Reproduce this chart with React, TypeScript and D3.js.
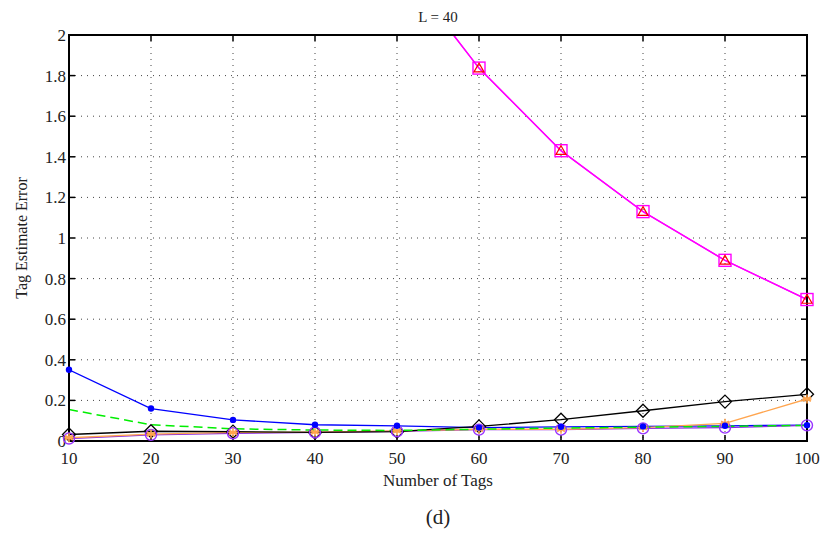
import React from "react";
import * as d3 from "d3";

const tags = [10, 20, 30, 40, 50, 60, 70, 80, 90, 100];
const magentaSquare = [9.0, 6.0, 4.4, 3.2, 2.36, 1.837, 1.43, 1.13, 0.89, 0.697];
const redTriangle = [9.0, 6.0, 4.4, 3.2, 2.36, 1.837, 1.43, 1.13, 0.89, 0.697];
const blueDot = [0.351, 0.16, 0.104, 0.08, 0.075, 0.066, 0.07, 0.072, 0.075, 0.078];
const greenDash = [0.155, 0.08, 0.06, 0.054, 0.052, 0.058, 0.064, 0.068, 0.072, 0.077];
const blackDiamond = [0.032, 0.048, 0.046, 0.042, 0.046, 0.072, 0.105, 0.149, 0.194, 0.23];
const purpleCircle = [0.012, 0.03, 0.038, 0.042, 0.048, 0.056, 0.056, 0.062, 0.066, 0.077];
const orangeStar = [0.016, 0.034, 0.042, 0.044, 0.05, 0.058, 0.058, 0.066, 0.087, 0.207];
const xTicks = [10, 20, 30, 40, 50, 60, 70, 80, 90, 100];
const yTicks = [0, 0.2, 0.4, 0.6, 0.8, 1, 1.2, 1.4, 1.6, 1.8, 2];

const W = 830, H = 540;
const L = 69, R = 807, T = 35, B = 441;
const FONT = "'Liberation Serif', 'DejaVu Serif', serif";

export default function App() {
  const x = d3.scaleLinear().domain([10, 100]).range([L, R]);
  const y = d3.scaleLinear().domain([0, 2]).range([B, T]);
  const line = (vals: number[]) =>
    d3.line<number>().x((_, i) => x(tags[i])).y((v) => y(v))(vals) || "";

  const diamond = (cx: number, cy: number, r: number) =>
    `M${cx},${cy - r}L${cx + r},${cy}L${cx},${cy + r}L${cx - r},${cy}Z`;
  const triangle = (cx: number, cy: number, r: number) =>
    `M${cx},${cy - r}L${cx + r},${cy + r * 0.75}L${cx - r},${cy + r * 0.75}Z`;
  const star = (cx: number, cy: number, r: number) => {
    let p = "";
    for (let k = 0; k < 3; k++) {
      const a = (k * Math.PI) / 3 + Math.PI / 2;
      p += `M${cx + r * Math.cos(a)},${cy + r * Math.sin(a)}L${cx - r * Math.cos(a)},${cy - r * Math.sin(a)}`;
    }
    p += `M${cx - r},${cy}L${cx + r},${cy}`;
    return p;
  };
  const inRange = (v: number) => v <= 2 && v >= 0;

  return (
    <svg width={W} height={H} style={{ display: "block", position: "absolute", left: 0, top: 0, background: "#fff" }}>
      <defs>
        <clipPath id="plot">
          <rect x={L} y={T} width={R - L} height={B - T} />
        </clipPath>
      </defs>
      <rect x={0} y={0} width={W} height={H} fill="#fff" />
      {/* grid */}
      {xTicks.slice(1, -1).map((t) => (
        <line key={"gx" + t} x1={x(t)} x2={x(t)} y1={T} y2={B} stroke="#444" strokeWidth={1} strokeDasharray="1,5" />
      ))}
      {yTicks.slice(1, -1).map((t) => (
        <line key={"gy" + t} x1={L} x2={R} y1={y(t)} y2={y(t)} stroke="#444" strokeWidth={1} strokeDasharray="1,5" />
      ))}
      {/* ticks */}
      {xTicks.map((t) => (
        <g key={"tx" + t}>
          <line x1={x(t)} x2={x(t)} y1={B} y2={B - 6} stroke="#000" strokeWidth={1.5} />
          <line x1={x(t)} x2={x(t)} y1={T} y2={T + 6} stroke="#000" strokeWidth={1.5} />
          <text x={x(t)} y={B + 23} textAnchor="middle" fontFamily={FONT} fontSize={17} fill="#222">{t}</text>
        </g>
      ))}
      {yTicks.map((t) => (
        <g key={"ty" + t}>
          <line x1={L} x2={L + 6} y1={y(t)} y2={y(t)} stroke="#000" strokeWidth={1.5} />
          <line x1={R} x2={R - 6} y1={y(t)} y2={y(t)} stroke="#000" strokeWidth={1.5} />
          <text x={L - 3} y={y(t) + 6} textAnchor="end" fontFamily={FONT} fontSize={17} fill="#222">{t}</text>
        </g>
      ))}
      <g clipPath="url(#plot)">
        <path d={line(magentaSquare)} fill="none" stroke="#ff00ff" strokeWidth={1.5} />
        <path d={line(redTriangle)} fill="none" stroke="#ff00ff" strokeWidth={1.2} />
        <path d={line(blueDot)} fill="none" stroke="#0000ff" strokeWidth={1.3} />
        <path d={line(purpleCircle)} fill="none" stroke="#8a2be2" strokeWidth={1.3} />
        <path d={line(orangeStar)} fill="none" stroke="#ffa54f" strokeWidth={1.3} />
        <path d={line(blackDiamond)} fill="none" stroke="#000" strokeWidth={1.3} />
        <path d={line(greenDash)} fill="none" stroke="#00ee00" strokeWidth={1.5} strokeDasharray="9,5" />
      </g>
      {/* axes box */}
      <rect x={L} y={T} width={R - L} height={B - T} fill="none" stroke="#000" strokeWidth={2} />
      {tags.map((t, i) => (
        <g key={"m" + t}>
          <path d={diamond(x(t), y(blackDiamond[i]), 6.5)} fill="none" stroke="#000" strokeWidth={1.3} />
          <circle cx={x(t)} cy={y(purpleCircle[i])} r={5.5} fill="none" stroke="#9933ff" strokeWidth={1.4} />
          <path d={star(x(t), y(orangeStar[i]), 4.5)} fill="none" stroke="#ffa54f" strokeWidth={1.6} />
          <circle cx={x(t)} cy={y(blueDot[i])} r={3.2} fill="#0000ff" />
          {inRange(magentaSquare[i]) && (
            <rect x={x(t) - 6} y={y(magentaSquare[i]) - 6} width={12} height={12} fill="none" stroke="#ff00ff" strokeWidth={1.4} />
          )}
          {inRange(redTriangle[i]) && (
            <path d={triangle(x(t), y(redTriangle[i]), 5)} fill="none" stroke="#ff0000" strokeWidth={1.2} />
          )}
        </g>
      ))}
      {/* labels */}
      <text x={(L + R) / 2} y={22} textAnchor="middle" fontFamily={FONT} fontSize={15} fill="#222">L = 40</text>
      <text x={(L + R) / 2} y={486} textAnchor="middle" fontFamily={FONT} fontSize={17} fill="#222">Number of Tags</text>
      <text x={(L + R) / 2} y={524} textAnchor="middle" fontFamily={FONT} fontSize={21} fill="#222">(d)</text>
      <text transform={`translate(27,${(T + B) / 2}) rotate(-90)`} textAnchor="middle" fontFamily={FONT} fontSize={16} fill="#222">Tag Estimate Error</text>
    </svg>
  );
}
